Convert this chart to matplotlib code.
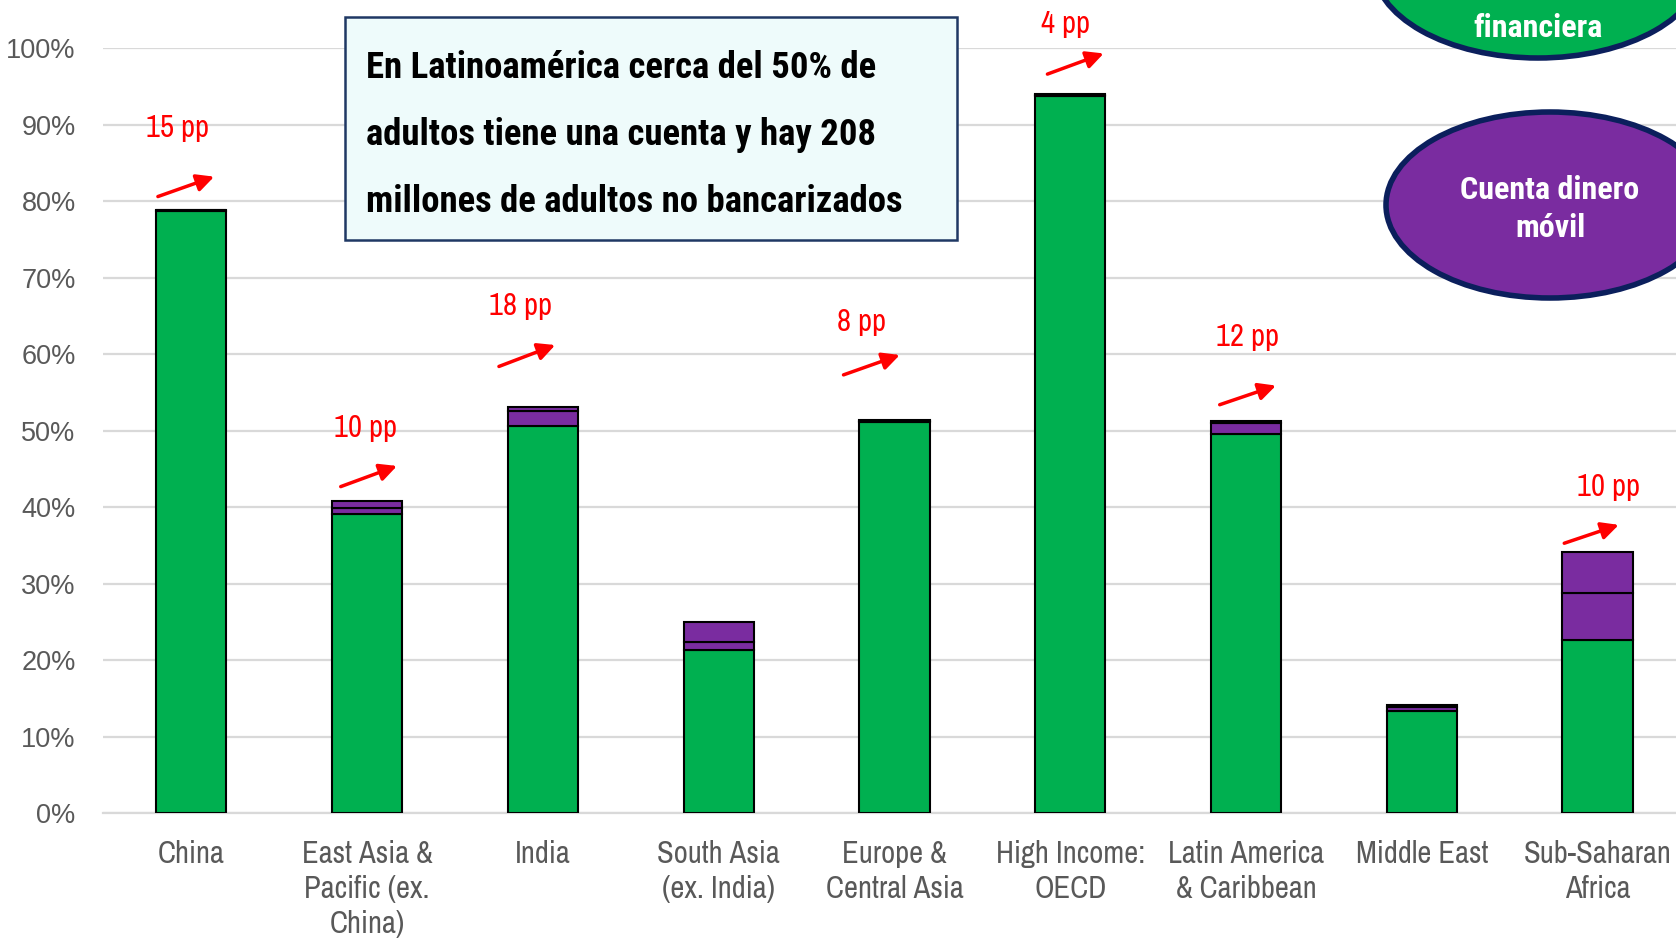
import matplotlib
matplotlib.use("Agg")
import matplotlib.pyplot as plt
from matplotlib.patches import Ellipse, Rectangle

regions = ["China", "East Asia &\nPacific (ex.\nChina)", "India", "South Asia\n(ex. India)",
           "Europe &\nCentral Asia", "High Income:\nOECD", "Latin America\n& Caribbean",
           "Middle East", "Sub-Saharan\nAfrica"]
# % of adults with an account
fin_inst = [78.7, 39.1, 50.6, 21.4, 51.1, 93.8, 49.6, 13.4, 22.7]
mobile_both = [0.1, 0.8, 2.0, 1.0, 0.2, 0.1, 1.4, 0.5, 6.1]
mobile_only = [0.1, 0.9, 0.5, 2.6, 0.1, 0.1, 0.3, 0.3, 5.4]
yticks = [0, 10, 20, 30, 40, 50, 60, 70, 80, 90, 100]

# change 2011-2014 callouts: bar index, text
changes = [(0, "15 pp"), (1, "10 pp"), (2, "18 pp"), (4, "8 pp"),
           (5, "4 pp"), (6, "12 pp"), (8, "10 pp")]
# label (x, y) and arrow start/end for each callout
callout_pos = {0: ((-0.08, 89.5), (-0.19, 80.6), (0.13, 83.2)),
               1: ((0.99, 50.3), (0.85, 42.7), (1.17, 45.4)),
               2: ((1.87, 66.3), (1.75, 58.4), (2.07, 61.2)),
               4: ((3.81, 64.2), (3.71, 57.3), (4.03, 59.9)),
               5: ((4.97, 103.2), (4.87, 96.6), (5.19, 99.3)),
               6: ((6.01, 62.2), (5.85, 53.4), (6.17, 55.9)),
               8: ((8.06, 42.6), (7.81, 35.3), (8.12, 37.7))}

GREEN = "#00b050"
PURPLE = "#7a2ca0"
NAVY = "#0b1f5c"
narrow = ["Liberation Sans Narrow", "Arial Narrow", "Archivo Narrow", "Roboto Condensed",
          "Liberation Sans", "DejaVu Sans"]
narrow_bold = ["Liberation Sans Narrow", "Roboto Condensed", "Asap Condensed",
               "Barlow Semi Condensed", "Liberation Sans", "DejaVu Sans"]

fig = plt.figure(figsize=(16.76, 9.41), dpi=100)
ax = fig.add_axes([0.0617, 0.1356, 0.944, 0.8133])

x = list(range(len(regions)))
w = 0.40
ax.bar(x, fin_inst, w, color=GREEN, edgecolor="black", linewidth=1.5, zorder=3)
bottom2 = [a + b for a, b in zip(fin_inst, mobile_both)]
ax.bar(x, mobile_both, w, bottom=fin_inst, color=PURPLE, edgecolor="black", linewidth=1.5, zorder=3)
ax.bar(x, mobile_only, w, bottom=bottom2, color=PURPLE, edgecolor="black", linewidth=1.5, zorder=3)

ax.set_xlim(-0.5, 8.5)
ax.set_ylim(0, 100)
ax.set_yticks(yticks)
ax.set_yticklabels([f"{t}%" for t in yticks], family=["Liberation Sans"], fontsize=19.5, color="#595959")
ax.set_xticks(x)
ax.set_xticklabels(regions, family=narrow, fontsize=22, color="#595959", linespacing=1.3)
ax.tick_params(axis="both", length=0)
ax.tick_params(axis="y", pad=20)
ax.tick_params(axis="x", pad=19)
ax.grid(axis="y", color="#d9d9d9", linewidth=1.6, zorder=0)
for s in ["top", "right", "left"]:
    ax.spines[s].set_visible(False)
ax.spines["bottom"].set_color("#d9d9d9")
ax.spines["bottom"].set_linewidth(1.6)

for i, txt in changes:
    (lx, ly), (sx, sy), (ex, ey) = callout_pos[i]
    ax.text(lx, ly, txt, color="red", fontsize=22, family=narrow, ha="center", va="center",
            clip_on=False, zorder=5)
    ax.annotate("", xy=(ex, ey), xytext=(sx, sy), annotation_clip=False,
                arrowprops=dict(arrowstyle="-|>", color="red", lw=2.5, mutation_scale=26,
                                shrinkA=0, shrinkB=0), zorder=5)

# note box
fig.patches.append(Rectangle((345 / 1676, 1 - 240 / 941), 612 / 1676, 223 / 941,
                             transform=fig.transFigure, facecolor="#eefbfb",
                             edgecolor="#1f3864", linewidth=1.8, zorder=4))
note = ["En Latinoamérica cerca del 50% de",
        "adultos tiene una cuenta y hay 208",
        "millones de adultos no bancarizados"]
for k, line in enumerate(note):
    fig.text(366 / 1676, 1 - (68 + 67 * k) / 941, line, fontsize=26.5, fontweight="bold",
             family=narrow_bold, color="black", va="center", ha="left", zorder=5)

# legend ellipses
fig.patches.append(Ellipse((1538 / 1676, 1 - (-35) / 941), 330 / 1676, 186 / 941,
                           transform=fig.transFigure, facecolor=GREEN, edgecolor=NAVY,
                           linewidth=4, zorder=4))
fig.text(1538 / 1676, 1 - 28 / 941, "financiera", fontsize=23, fontweight="bold",
         family=narrow_bold, color="white", ha="center", va="center", zorder=5)
fig.patches.append(Ellipse((1550 / 1676, 1 - 205 / 941), 328 / 1676, 186 / 941,
                           transform=fig.transFigure, facecolor=PURPLE, edgecolor=NAVY,
                           linewidth=4, zorder=4))
fig.text(1550 / 1676, 1 - 209 / 941, "Cuenta dinero\nmóvil", fontsize=23, fontweight="bold",
         family=narrow_bold, color="white", ha="center", va="center", linespacing=1.3, zorder=5)

fig.savefig("out.png", dpi=100)
